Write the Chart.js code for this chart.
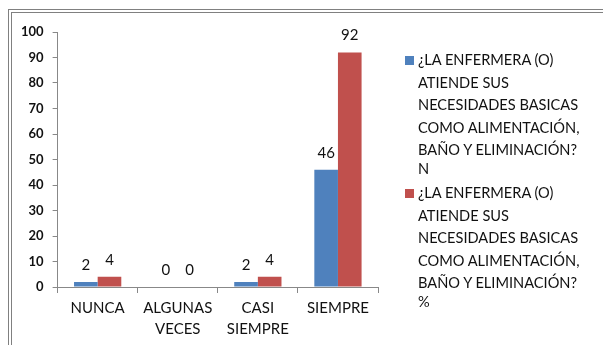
<!DOCTYPE html>
<html>
<head>
<meta charset="utf-8">
<script src="https://cdn.jsdelivr.net/npm/chart.js@4/dist/chart.umd.min.js"></script>
<style>
  html, body { margin: 0; padding: 0; background: #fff; }
  body { width: 603px; height: 345px; position: relative; overflow: hidden; font-family: Lato, "Open Sans", sans-serif; }
  .frame { position: absolute; left: 8px; top: 9px; right: -4px; bottom: -4px; border: 1px solid #808080; }
  .frame2 { position: absolute; left: 11px; top: 12px; right: -4px; bottom: -4px; border: 1px solid #808080; }
  #wrap { position: absolute; left: 12px; top: 13px; width: 591px; height: 332px; }
  #legend { position: absolute; left: 405px; top: 49px; width: 195px; font-size: 14.6px; line-height: 22.5px; color: #111; }
  .item { position: relative; padding-left: 13px; margin-bottom: 2px; }
  .box { position: absolute; left: 0; top: 7px; width: 9px; height: 9px; }
  .last { margin-top: -4px; }
</style>
</head>
<body>
<div class="frame"></div>
<div class="frame2"></div>
<div id="wrap"><canvas id="c" width="591" height="332"></canvas></div>
<div id="legend"></div>
<script>
// Categories and series values
const categories = [["NUNCA"], ["ALGUNAS", "VECES"], ["CASI", "SIEMPRE"], ["SIEMPRE"]];
const seriesN = [2, 0, 2, 46];
const seriesPct = [4, 0, 4, 92];
const seriesNames = [
  ["¿LA ENFERMERA (O)", "ATIENDE SUS", "NECESIDADES BASICAS", "COMO ALIMENTACIÓN,", "BAÑO Y ELIMINACIÓN?", "N"],
  ["¿LA ENFERMERA (O)", "ATIENDE SUS", "NECESIDADES BASICAS", "COMO ALIMENTACIÓN,", "BAÑO Y ELIMINACIÓN?", "%"]
];
const yTicks = [0, 10, 20, 30, 40, 50, 60, 70, 80, 90, 100];

const BLUE = '#4f81bd';
const RED = '#c0504d';

// Value labels above each bar
const valueLabels = {
  id: 'valueLabels',
  afterDatasetsDraw(chart) {
    const ctx = chart.ctx;
    ctx.save();
    ctx.font = '15px Lato, sans-serif';
    ctx.fillStyle = '#111';
    ctx.textAlign = 'center';
    ctx.textBaseline = 'middle';
    chart.data.datasets.forEach((ds, i) => {
      chart.getDatasetMeta(i).data.forEach((bar, j) => {
        ctx.fillText(String(ds.data[j]), bar.x, bar.y - 17);
      });
    });
    ctx.restore();
  }
};

const chart = new Chart(document.getElementById('c'), {
  type: 'bar',
  data: {
    labels: categories,
    datasets: [
      { label: seriesNames[0].join(' '), data: seriesN, backgroundColor: BLUE },
      { label: seriesNames[1].join(' '), data: seriesPct, backgroundColor: RED }
    ]
  },
  options: {
    responsive: false,
    animation: false,
    devicePixelRatio: 1,
    layout: { padding: { left: 0, right: 225, top: 19, bottom: 0 } },
    categoryPercentage: 0.59,
    barPercentage: 1.0,
    plugins: { legend: { display: false }, tooltip: { enabled: false } },
    scales: {
      x: {
        grid: { drawOnChartArea: false, drawTicks: true, tickLength: 6, color: '#888', offset: true },
        border: { color: '#888' },
        ticks: { color: '#111', font: { family: 'Lato', size: 15, lineHeight: 1.4 }, padding: 5, maxRotation: 0, autoSkip: false }
      },
      y: {
        min: 0, max: 100,
        afterBuildTicks(axis) { axis.ticks = yTicks.map(v => ({ value: v })); },
        grid: { drawOnChartArea: false, drawTicks: true, tickLength: 5, color: '#888' },
        border: { color: '#888' },
        ticks: { color: '#111', font: { family: 'Lato', size: 13, weight: 'bold' }, padding: 9 }
      }
    }
  },
  plugins: [valueLabels]
});

// Legend built from the chart's datasets
const legend = document.getElementById('legend');
chart.data.datasets.forEach((ds, i) => {
  const item = document.createElement('div');
  item.className = 'item';
  const box = document.createElement('span');
  box.className = 'box';
  box.style.background = ds.backgroundColor;
  item.appendChild(box);
  seriesNames[i].forEach((s, k) => {
    const line = document.createElement('div');
    line.textContent = s;
    if (k === seriesNames[i].length - 1) line.className = 'last';
    item.appendChild(line);
  });
  legend.appendChild(item);
});
</script>
</body>
</html>
